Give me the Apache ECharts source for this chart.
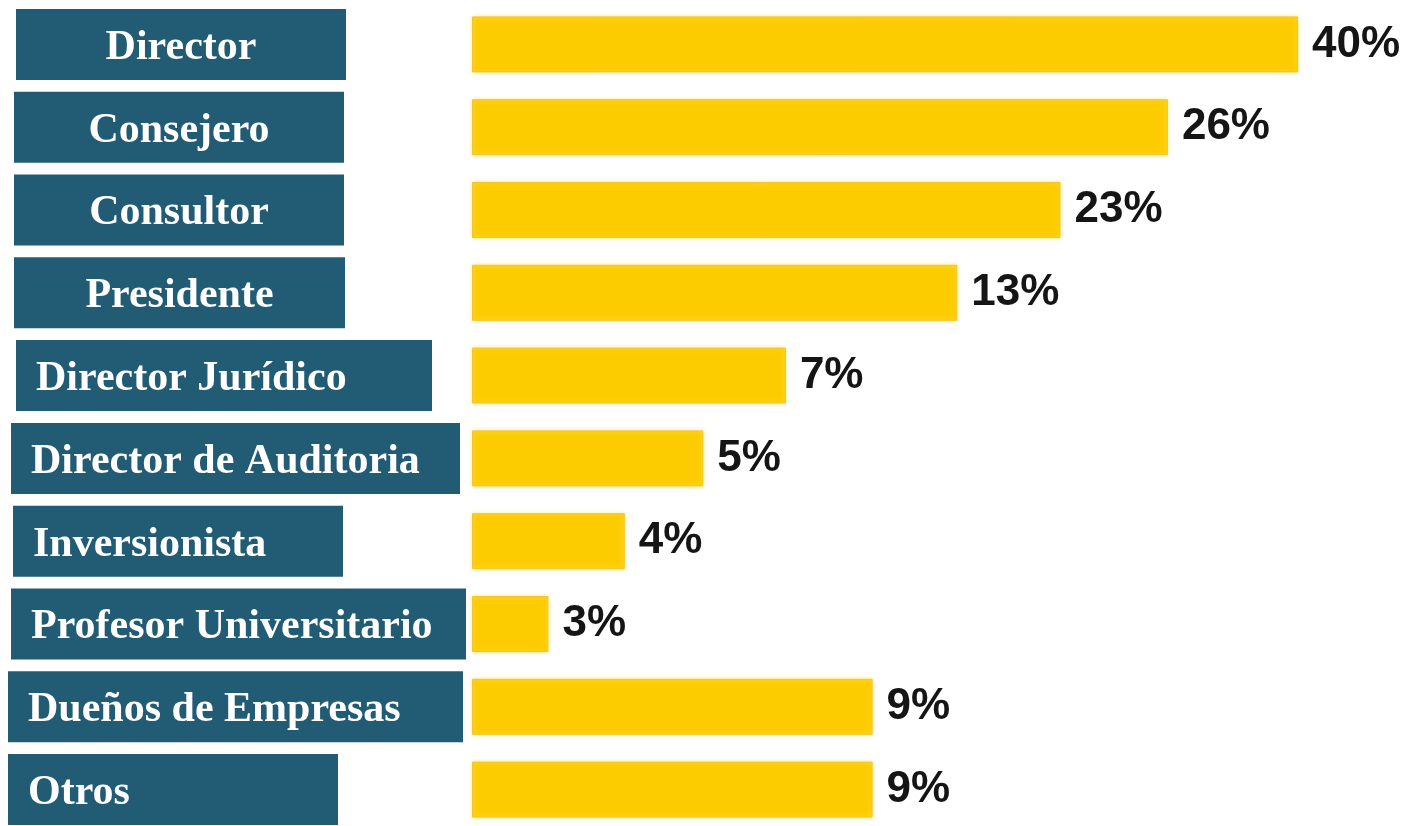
<html>
<head>
<title>Cargos</title>
<script src="https://cdn.jsdelivr.net/npm/echarts@6/dist/echarts.min.js"></script>
<style>
  body { margin: 0; background: #fff; }
  #main { width: 1409px; height: 826px; }
</style>
</head>
<body>
<div id="main"></div>
<script type="text/javascript">

// categorias, de arriba a abajo
var categories = ['Director', 'Consejero', 'Consultor', 'Presidente', 'Director Jurídico',
    'Director de Auditoria', 'Inversionista', 'Profesor Universitario', 'Dueños de Empresas', 'Otros'];

// porcentaje que muestra cada barra
var percents = [40, 26, 23, 13, 7, 5, 4, 3, 9, 9];

// largo de cada barra tal como aparece en el grafico (en la escala donde 40 = barra mas larga)
var barLength = [40, 33.7, 28.5, 23.5, 15.2, 11.2, 7.4, 3.7, 19.4, 19.4];

// cajas de las etiquetas: desplazamiento, ancho y alineacion del texto
var boxLeft  = [16, 14, 14, 14, 16, 11, 13, 11, 8, 8];
var boxWidth = [330, 330, 330, 331, 416, 449, 330, 455, 455, 330];
var boxAlign = ['center', 'center', 'center', 'center', 'left', 'left', 'left', 'left', 'left', 'left'];

var rich = {};
for (var i = 0; i < categories.length; i++) {
    var padL = boxAlign[i] == 'left' ? 20 : 0;
    rich['s' + i] = { width: boxLeft[i] - 8, height: 71 };
    rich['b' + i] = {
        width: boxWidth[i] - padL,
        height: 64,
        lineHeight: 64,
        align: boxAlign[i],
        padding: [7, 0, 0, padL],
        backgroundColor: '#225B74',
        color: '#ffffff',
        fontFamily: '"Liberation Serif", "Times New Roman", serif',
        fontWeight: 'bold',
        fontSize: 42
    };
}

var myChart = echarts.init(document.getElementById('main'));

var option = {
    animation: false,
    backgroundColor: '#ffffff',
    grid: {
        left: 472,
        top: 3,
        width: 826,
        height: 828,
        outerBoundsMode: 'none'
    },
    xAxis: {
        type: 'value',
        min: 0,
        max: 40,
        show: false
    },
    yAxis: {
        type: 'category',
        data: categories,
        inverse: true,
        axisLine: { show: false },
        axisTick: { show: false },
        splitLine: { show: false },
        axisLabel: {
            align: 'left',
            margin: 464,
            verticalAlign: 'middle',
            formatter: function (value, idx) {
                return '{s' + idx + '| }{b' + idx + '|' + value + '}';
            },
            rich: rich
        }
    },
    series: [{
        type: 'bar',
        data: barLength,
        barWidth: 56,
        itemStyle: {
            color: '#FDCC00',
            borderColor: '#F2C530',
            borderWidth: 1,
            shadowColor: 'rgba(255,230,120,0.9)',
            shadowBlur: 4
        },
        label: {
            show: true,
            position: 'right',
            distance: 14,
            color: '#151515',
            fontFamily: '"Liberation Sans Narrow", "Liberation Sans", Arial, sans-serif',
            fontWeight: 'bold',
            fontSize: 44,
            formatter: function (p) {
                return percents[p.dataIndex] + '%';
            }
        }
    }]
};

myChart.setOption(option);

</script>
</body>
</html>
